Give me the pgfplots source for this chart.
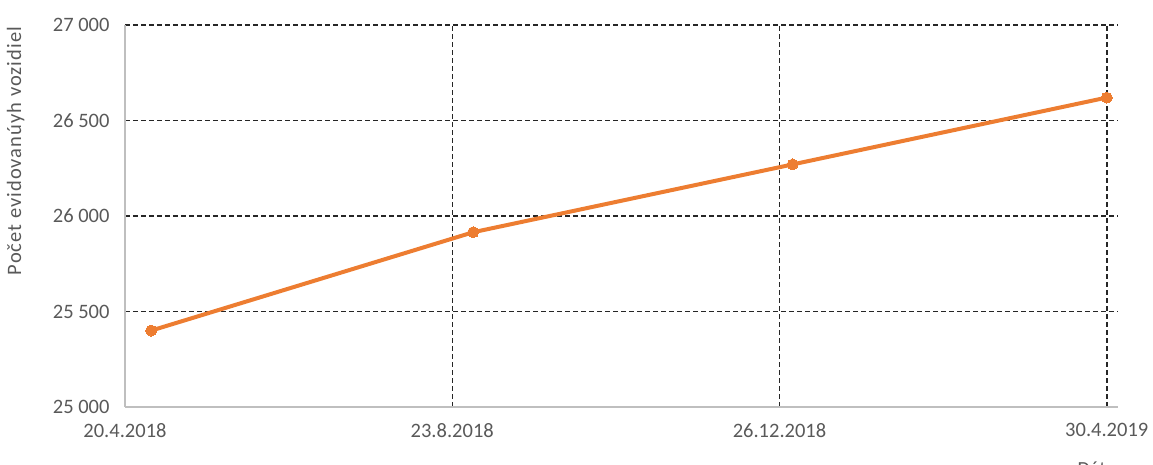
\documentclass[border=0pt]{standalone}
\usepackage{pgfplots}
\pgfplotsset{compat=1.18}
\usepackage{fontspec}
\setmainfont{Carlito}
\newfontfamily\labelfont[LetterSpace=5]{Carlito}
\definecolor{orangeline}{HTML}{ED7D31}
\definecolor{txtgrey}{HTML}{595959}
\definecolor{axgrey}{HTML}{BFBFBF}
\begin{document}
\begin{tikzpicture}
\begin{axis}[
  scale only axis,
  width=993pt, height=382pt,
  xmin=0, xmax=379.3,
  ymin=25000, ymax=27000,
  scaled y ticks=false,
  axis x line*=bottom, axis y line*=left,
  axis line style={axgrey, line width=1.5pt, -},
  xtick={0,125,250,375},
  xticklabels={20.4.2018,23.8.2018,26.12.2018,30.4.2019},
  ytick={25000,25500,26000,26500,27000},
  yticklabels={25 000,25 500,26 000,26 500,27 000},
  major tick length=0pt,
  grid=major,
  major grid style={black!85, line width=1.5pt, dash pattern=on 5pt off 3pt},
  tick label style={font=\fontsize{20.5}{24}\selectfont, text=txtgrey},
  xticklabel style={yshift=-13pt},
  yticklabel style={xshift=-12pt},
  ylabel={Počet evidovanúyh vozidiel},
  ylabel style={font=\labelfont\fontsize{20.5}{24}\selectfont, text=txtgrey, at={(rel axis cs:0,0.67)}, anchor=south, yshift=97pt},
  clip=false,
]
\addplot[orangeline, line width=4pt, mark=*, mark size=5.5pt, mark options={fill=orangeline, draw=orangeline, line width=0pt}]
  coordinates {(10,25400) (133,25915) (255,26270) (375,26620)};
\end{axis}
\node[anchor=north, text=txtgrey, font=\fontsize{20}{24}\selectfont] at (980pt,-51pt) {Dátum};
\pgfresetboundingbox
\path[use as bounding box] (-125pt,-58pt) rectangle (1028pt,407pt);
\end{tikzpicture}
\end{document}
